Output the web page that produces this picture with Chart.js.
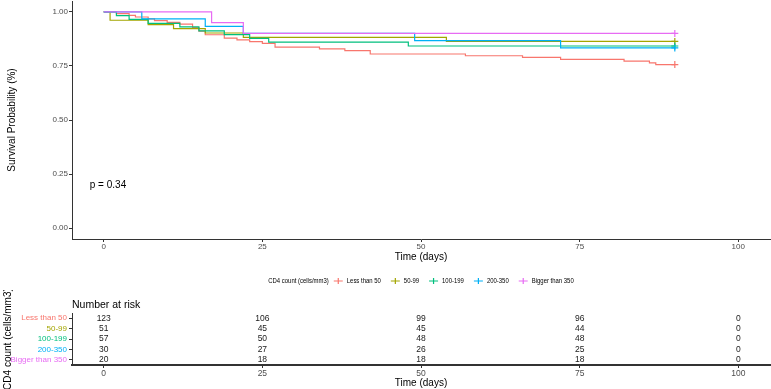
<!DOCTYPE html>
<html lang="en">
  <head>
    <meta charset="UTF-8" />
    <title>Survival by CD4 count</title>
    <script src="https://cdn.jsdelivr.net/npm/chart.js"></script>
    <style>
      body {
        margin: 0;
        background: #ffffff;
      }
      canvas {
        display: block;
      }
    </style>
  </head>
  <body>
    <canvas id="survChart" width="771" height="290"></canvas>
    <canvas id="riskChart" width="771" height="99"></canvas>

    <script>
      // groups and colours
      const groups = ["Less than 50", "50-99", "100-199", "200-350", "Bigger than 350"];
      const colors = ["#F8766D", "#A3A500", "#00BF7D", "#00B0F6", "#E76BF3"];

      // Kaplan-Meier steps (day, survival)
      const tLess50 = [0, 2, 4, 5, 7, 8, 10, 12, 14, 15, 16, 19, 21, 23, 25, 27, 34, 38, 42, 57, 66, 72, 82, 86, 87, 90];
      const sLess50 = [1, 0.992, 0.984, 0.976, 0.967, 0.959, 0.951, 0.943, 0.927, 0.911, 0.894, 0.878, 0.87, 0.862, 0.854, 0.837, 0.829, 0.821, 0.805, 0.797, 0.789, 0.78, 0.772, 0.764, 0.756, 0.756];
      const t50_99 = [0, 1, 7, 11, 16, 22, 54, 90];
      const s50_99 = [1, 0.961, 0.941, 0.922, 0.902, 0.882, 0.863, 0.863];
      const t100_199 = [0, 2, 4, 7, 12, 15, 19, 23, 26, 48, 90];
      const s100_199 = [1, 0.982, 0.965, 0.947, 0.93, 0.912, 0.895, 0.877, 0.86, 0.842, 0.842];
      const t200_350 = [0, 6, 16, 22, 49, 72, 90];
      const s200_350 = [1, 0.967, 0.933, 0.9, 0.867, 0.833, 0.833];
      const tOver350 = [0, 17, 22, 90];
      const sOver350 = [1, 0.95, 0.9, 0.9];

      const xTicks = [0, 25, 50, 75, 100];
      const yTicks = [0, 0.25, 0.5, 0.75, 1];
      const pValueText = "p = 0.34";

      // number at risk table
      const riskTimes = [0, 25, 50, 75, 100];
      const riskLess50 = [123, 106, 99, 96, 0];
      const risk50_99 = [51, 45, 45, 44, 0];
      const risk100_199 = [57, 50, 48, 48, 0];
      const risk200_350 = [30, 27, 26, 25, 0];
      const riskOver350 = [20, 18, 18, 18, 0];

      const times = [tLess50, t50_99, t100_199, t200_350, tOver350];
      const survs = [sLess50, s50_99, s100_199, s200_350, sOver350];
      const risks = [riskLess50, risk50_99, risk100_199, risk200_350, riskOver350];

      const FONT = "'Liberation Sans', Arial, sans-serif";
      const AXIS = "#333333";
      const TICK = "#4D4D4D";

      // drop the extra room Chart.js keeps for edge tick labels
      function noPad(s) {
        s.paddingTop = 0;
        s.paddingBottom = 0;
        s.paddingLeft = 0;
        s.paddingRight = 0;
      }

      const datasets = groups.map((g, i) => ({
        label: g,
        data: times[i].map((t, k) => ({ x: t, y: survs[i][k] })),
        borderColor: colors[i],
        backgroundColor: colors[i],
        borderWidth: 1.2,
        stepped: "before",
        order: groups.length - i,
        clip: 6,
        pointStyle: "cross",
        pointBorderWidth: 1.2,
        pointRadius: (ctx) => (ctx.dataIndex === times[i].length - 1 ? 3.5 : 0),
      }));

      // p value text and the ggplot-like legend below the axis
      const survExtras = {
        id: "survExtras",
        afterDraw(chart) {
          const { ctx, scales } = chart;
          ctx.save();
          ctx.fillStyle = "#000";
          ctx.font = "10px " + FONT;
          ctx.textAlign = "left";
          ctx.textBaseline = "middle";
          ctx.fillText(pValueText, scales.x.getPixelForValue(-2.2), scales.y.getPixelForValue(0.2));

          // legend, narrow text
          const k = 0.85;
          ctx.font = "7px " + FONT;
          const title = "CD4 count (cells/mm3)";
          const w = (s) => ctx.measureText(s).width * k;
          const symW = 9, gapT = 5, gapS = 4, gapI = 10;
          let total = w(title) + gapT;
          groups.forEach((g, i) => {
            total += symW + gapS + w(g) + (i < groups.length - 1 ? gapI : 0);
          });
          const area = chart.chartArea;
          let x = (area.left + area.right) / 2 - total / 2;
          const y = 281;
          const text = (s, tx) => {
            ctx.save();
            ctx.translate(tx, y);
            ctx.scale(k, 1);
            ctx.fillStyle = "#000";
            ctx.fillText(s, 0, 0);
            ctx.restore();
          };
          text(title, x);
          x += w(title) + gapT;
          groups.forEach((g, i) => {
            ctx.strokeStyle = colors[i];
            ctx.lineWidth = 1.2;
            ctx.beginPath();
            ctx.moveTo(x, y);
            ctx.lineTo(x + symW, y);
            ctx.moveTo(x + symW / 2, y - 3);
            ctx.lineTo(x + symW / 2, y + 3);
            ctx.stroke();
            x += symW + gapS;
            text(g, x);
            x += w(g) + gapI;
          });
          ctx.restore();
        },
      };

      new Chart(document.getElementById("survChart"), {
        type: "line",
        data: { datasets },
        options: {
          responsive: false,
          animation: false,
          layout: { autoPadding: false, padding: { top: 1, right: 1, bottom: 27, left: 0 } },
          plugins: { legend: { display: false }, tooltip: { enabled: false } },
          scales: {
            x: {
              type: "linear",
              min: -5,
              max: 105,
              afterBuildTicks: (s) => (s.ticks = xTicks.map((v) => ({ value: v }))),
              afterFit: (s) => {
                s.height = 24;
                noPad(s);
              },
              grid: { drawOnChartArea: false, tickLength: 3, tickColor: AXIS },
              border: { color: AXIS, width: 1 },
              ticks: { color: TICK, font: { family: FONT, size: 8 }, padding: 0, maxRotation: 0 },
              title: {
                display: true,
                text: "Time (days)",
                color: "#000",
                font: { family: FONT, size: 10 },
                padding: { top: 0, bottom: 0 },
              },
            },
            y: {
              type: "linear",
              min: -0.05,
              max: 1.05,
              afterBuildTicks: (s) => (s.ticks = yTicks.map((v) => ({ value: v }))),
              afterFit: (s) => {
                s.width = 72;
                noPad(s);
              },
              grid: { drawOnChartArea: false, tickLength: 3, tickColor: AXIS },
              border: { color: AXIS, width: 1 },
              ticks: {
                color: TICK,
                font: { family: FONT, size: 8 },
                padding: 1,
                callback: (v) => v.toFixed(2),
              },
              title: {
                display: true,
                text: "Survival Probability (%)",
                color: "#000",
                font: { family: FONT, size: 10 },
                padding: { top: 6, bottom: 0 },
              },
            },
          },
        },
        plugins: [survExtras],
      });

      // numbers at risk, placed through the risk chart scales
      const riskNumbers = {
        id: "riskNumbers",
        afterDatasetsDraw(chart) {
          const { ctx, scales } = chart;
          ctx.save();
          ctx.fillStyle = "#1a1a1a";
          ctx.font = "8.5px " + FONT;
          ctx.textAlign = "center";
          ctx.textBaseline = "middle";
          risks.forEach((row, i) => {
            row.forEach((n, j) => {
              ctx.fillText(String(n), scales.x.getPixelForValue(riskTimes[j]), scales.y.getPixelForValue(i));
            });
          });
          ctx.restore();
        },
      };

      new Chart(document.getElementById("riskChart"), {
        type: "scatter",
        data: { datasets: [] },
        options: {
          responsive: false,
          animation: false,
          layout: { autoPadding: false, padding: { top: 0, right: 1, bottom: 0, left: 0 } },
          plugins: {
            legend: { display: false },
            tooltip: { enabled: false },
            title: {
              display: true,
              text: "Number at risk",
              align: "start",
              fullSize: false,
              color: "#000",
              font: { family: FONT, size: 10.5, weight: "normal" },
              padding: { top: 9, bottom: 1.5 },
            },
          },
          scales: {
            x: {
              type: "linear",
              min: -5,
              max: 105,
              afterBuildTicks: (s) => (s.ticks = riskTimes.map((v) => ({ value: v }))),
              afterFit: (s) => {
                s.height = 24;
                noPad(s);
              },
              grid: { drawOnChartArea: false, tickLength: 3, tickColor: AXIS },
              border: { color: AXIS, width: 2 },
              ticks: { color: TICK, font: { family: FONT, size: 8.5 }, padding: 1, maxRotation: 0 },
              title: {
                display: true,
                text: "Time (days)",
                color: "#000",
                font: { family: FONT, size: 10 },
                padding: { top: -1, bottom: 0 },
              },
            },
            y: {
              type: "category",
              labels: groups,
              offset: true,
              afterFit: (s) => {
                s.width = 72;
                noPad(s);
              },
              grid: { drawOnChartArea: false, tickLength: 3, tickColor: AXIS, offset: false },
              border: { color: AXIS, width: 1 },
              ticks: {
                autoSkip: false,
                color: (c) => colors[c.index],
                font: { family: FONT, size: 8 },
                padding: 2,
              },
              title: {
                display: true,
                text: "CD4 count (cells/mm3)",
                color: "#000",
                font: { family: FONT, size: 10 },
                padding: { top: 2, bottom: 0 },
              },
            },
          },
        },
        plugins: [riskNumbers],
      });
    </script>
  </body>
</html>
